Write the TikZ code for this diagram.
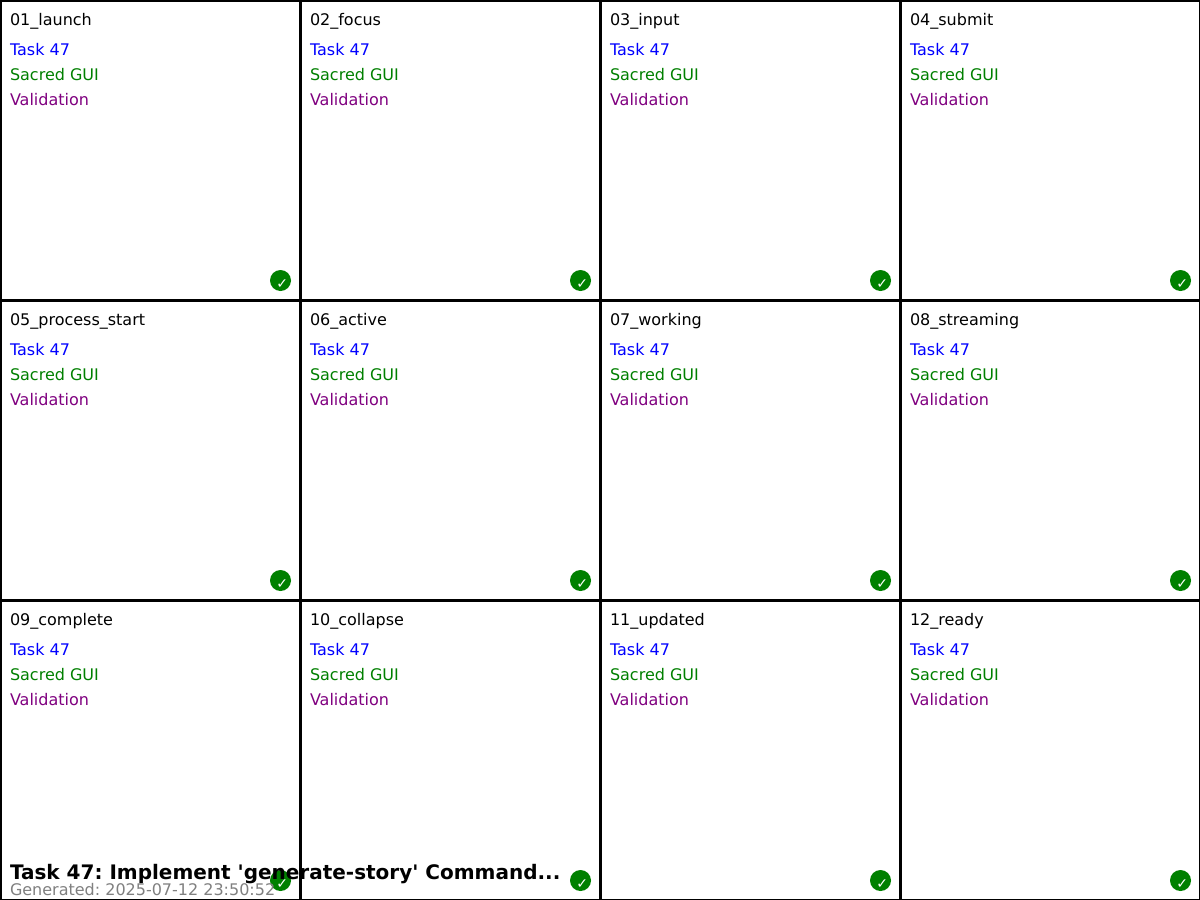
\documentclass[tikz,border=0pt]{standalone}
\usepackage{fontspec}
\setmainfont{DejaVu Sans}[Ligatures=TeXOff]
\frenchspacing
\tikzset{
  px/.style={x=1pt,y=-1pt},
  cell/.style={draw=black,line width=2pt,fill=white},
  lbl/.style={anchor=base west,inner sep=0pt,outer sep=0pt,font=\fontsize{16pt}{18pt}\selectfont},
  badge/.style={circle,draw=none,minimum size=21pt,inner sep=0pt},
  tick/.style={anchor=base,inner sep=0pt,text=white,font=\fontsize{14pt}{14pt}\selectfont},
}
\definecolor{okgreen}{RGB}{0,128,0}
\definecolor{vpurple}{RGB}{128,0,128}
\definecolor{gentext}{RGB}{128,128,128}
\begin{document}
\begin{tikzpicture}[px]
\useasboundingbox (0,0) rectangle (1200,900);
\clip (0,0) rectangle (1200,900);
\foreach \n/\name/\c/\r in {1/01\_launch/0/0,2/02\_focus/1/0,3/03\_input/2/0,4/04\_submit/3/0,
  5/05\_process\_start/0/1,6/06\_active/1/1,7/07\_working/2/1,8/08\_streaming/3/1,
  9/09\_complete/0/2,10/10\_collapse/1/2,11/11\_updated/2/2,12/12\_ready/3/2}{
  \begin{scope}[shift={(300*\c,300*\r)}]
    \draw[cell] (1,1) rectangle (300,300);
    \node[lbl] (t\n) at (10,25) {\name};
    \node[lbl,text=blue] (a\n) at (10,55) {Task 47};
    \node[lbl,text=okgreen] (b\n) at (10,80) {Sacred GUI};
    \node[lbl,text=vpurple] (v\n) at (10,105) {Validation};
    \node[badge,fill=okgreen] (c\n) at (280.5,280.5) {};
    \node[tick] (k\n) at (282.3,288.3) {✓};
  \end{scope}
}
\node[lbl,font=\fontsize{20pt}{22pt}\selectfont\bfseries] (title) at (10,879) {Task 47: Implement 'generate-story' Command...};
\node[lbl,text=gentext] (gen) at (10,895) {Generated: 2025-07-12 23:50:52};
\end{tikzpicture}
\end{document}
